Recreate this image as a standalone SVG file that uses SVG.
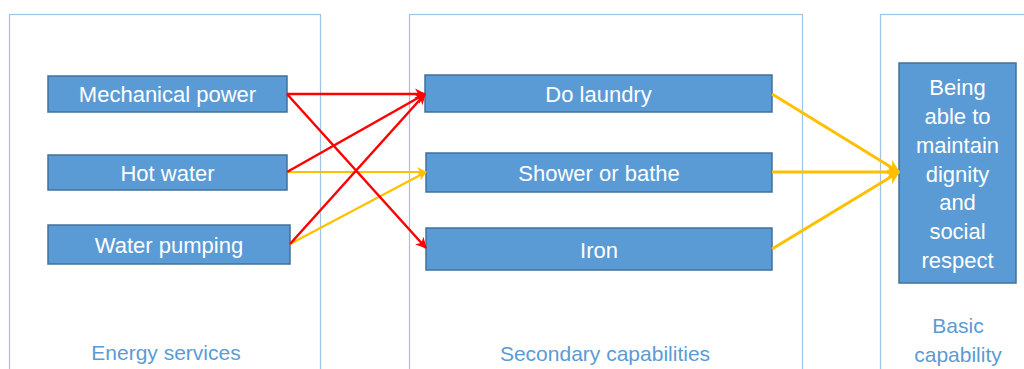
<svg xmlns="http://www.w3.org/2000/svg" width="1024" height="369" viewBox="0 0 1024 369">
<defs>
<marker id="ar" viewBox="0 0 10 10" refX="9" refY="5" markerWidth="4.5" markerHeight="4.5" orient="auto" markerUnits="strokeWidth"><path d="M0,0 L10,5 L0,10 L3,5 z" fill="#FF0000"/></marker>
<marker id="ay" viewBox="0 0 10 10" refX="9" refY="5" markerWidth="4.5" markerHeight="4.5" orient="auto" markerUnits="strokeWidth"><path d="M0,0 L10,5 L0,10 L3,5 z" fill="#FFC000"/></marker>
</defs>
<style>
.panel{fill:#FFFFFF;stroke:#9DC3E6;stroke-width:1.2}
.box{fill:#5B9BD5;stroke:#41719C;stroke-width:1.5}
.t{font-family:"Liberation Sans",Arial,sans-serif;font-size:22px;fill:#FFFFFF;text-anchor:middle}
.lbl{font-family:"Liberation Sans",Arial,sans-serif;font-size:21px;fill:#5B9BD5;text-anchor:middle}
.red{stroke:#FF0000;stroke-width:2.5;fill:none;marker-end:url(#ar)}
.yel{stroke:#FFC000;stroke-width:2.2;fill:none;marker-end:url(#ay)}
.yel2{stroke:#FFC000;stroke-width:3;fill:none;marker-end:url(#ay)}
</style>
<rect width="1024" height="369" fill="#FFFFFF"/>
<g id="panel-energy"><rect class="panel" x="9.5" y="14.5" width="311" height="370"/><text class="lbl" x="166" y="360">Energy services</text></g>
<g id="panel-secondary"><rect class="panel" x="409.5" y="14.5" width="393" height="370"/><text class="lbl" x="605" y="361">Secondary capabilities</text></g>
<g id="panel-basic"><rect class="panel" x="880.5" y="14.5" width="160" height="370"/><text class="lbl" x="958" y="333">Basic</text><text class="lbl" x="958" y="362">capability</text></g>
<g id="mechanical-power"><rect class="box" x="48" y="76" width="239" height="36"/><text class="t" x="167.5" y="102">Mechanical power</text></g>
<g id="hot-water"><rect class="box" x="48" y="155" width="239" height="35"/><text class="t" x="167.5" y="180.5">Hot water</text></g>
<g id="water-pumping"><rect class="box" x="48" y="225" width="242" height="39"/><text class="t" x="169" y="252.5">Water pumping</text></g>
<g id="do-laundry"><rect class="box" x="425" y="75" width="347" height="37"/><text class="t" x="598.5" y="101.5">Do laundry</text></g>
<g id="shower"><rect class="box" x="426" y="153" width="346" height="39"/><text class="t" x="599" y="180.5">Shower or bathe</text></g>
<g id="iron"><rect class="box" x="426" y="228" width="346" height="42"/><text class="t" x="599" y="257.5">Iron</text></g>
<g id="basic"><rect class="box" x="899" y="63" width="117" height="220"/>
<text class="t" x="957.5" y="95">Being</text>
<text class="t" x="957.5" y="124">able to</text>
<text class="t" x="957.5" y="153">maintain</text>
<text class="t" x="957.5" y="182">dignity</text>
<text class="t" x="957.5" y="210">and</text>
<text class="t" x="957.5" y="239">social</text>
<text class="t" x="957.5" y="268">respect</text>
</g>
<g id="connectors">
<line class="yel" x1="287" y1="172" x2="426" y2="172"/>
<line class="yel" x1="290" y1="244" x2="426" y2="172"/>
<line class="red" x1="287" y1="94" x2="425" y2="94"/>
<line class="red" x1="287" y1="94" x2="426" y2="248"/>
<line class="red" x1="287" y1="172" x2="425" y2="94"/>
<line class="red" x1="290" y1="244" x2="425" y2="94"/>
<line class="yel2" x1="772" y1="94" x2="899" y2="172"/>
<line class="yel2" x1="772" y1="172" x2="899" y2="172"/>
<line class="yel2" x1="772" y1="249" x2="899" y2="172"/>
</g>
</svg>
